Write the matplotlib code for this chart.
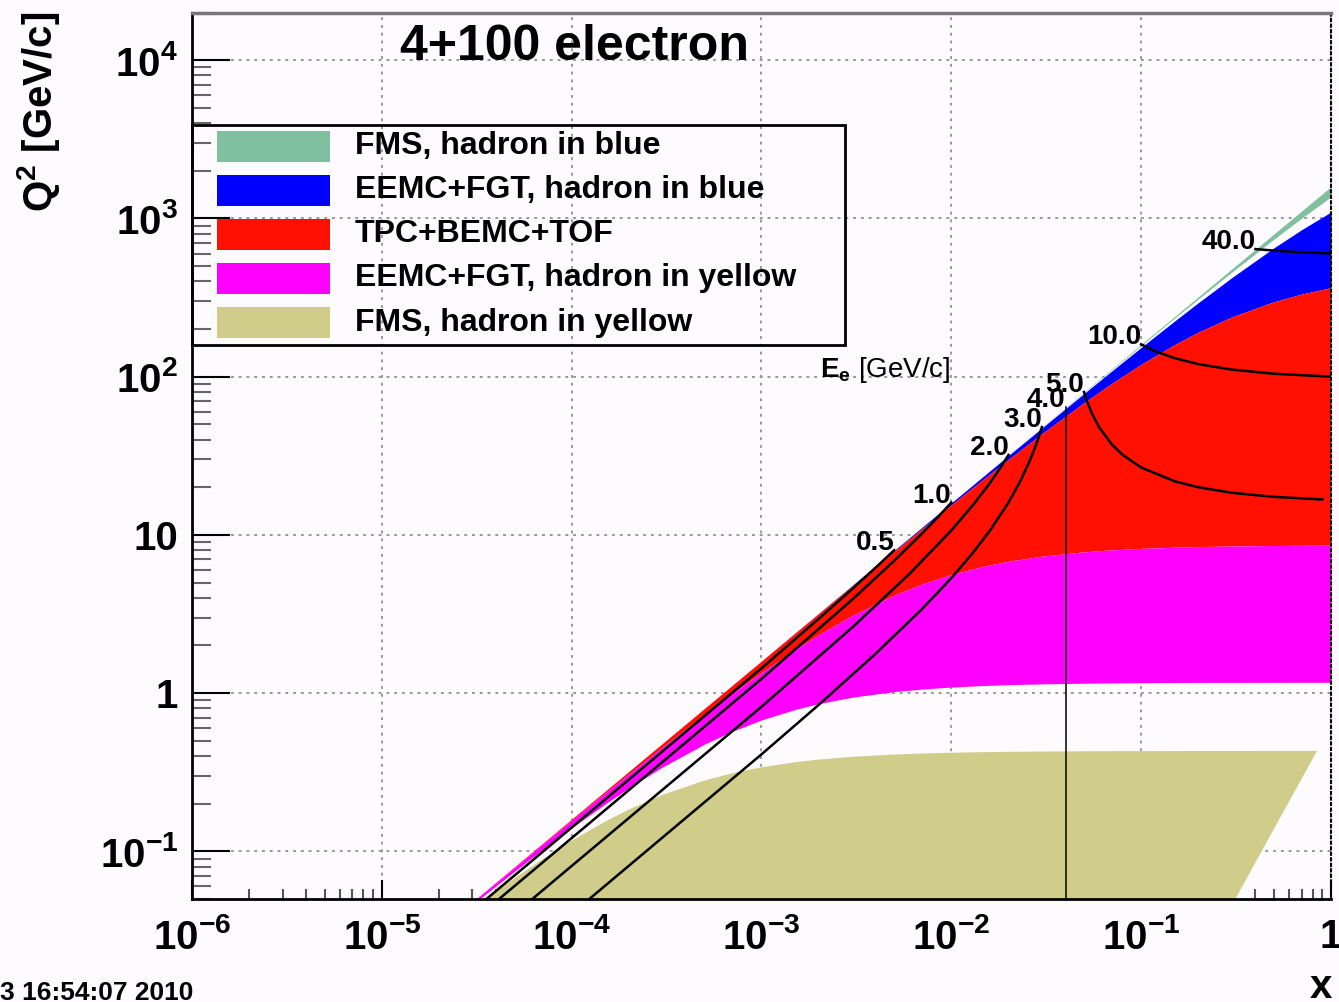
import matplotlib.pyplot as plt
from matplotlib.patches import Rectangle
from matplotlib.ticker import LogLocator, NullFormatter

plt.rcParams['font.family'] = ['Liberation Sans', 'DejaVu Sans']
plt.rcParams['font.weight'] = 'bold'
plt.rcParams['mathtext.fontset'] = 'custom'
plt.rcParams['mathtext.rm'] = 'Liberation Sans:bold'
plt.rcParams['mathtext.it'] = 'Liberation Sans:bold'
plt.rcParams['mathtext.bf'] = 'Liberation Sans:bold'
plt.rcParams['mathtext.sf'] = 'Liberation Sans'
plt.rcParams['mathtext.default'] = 'rm'

# --- acceptance bands: Q2 boundaries (GeV2) read along a common x grid ---
x_grid = [2e-5, 3e-5, 5e-5, 7e-5, 1e-4, 1.5e-4, 2e-4, 3e-4, 5e-4, 7e-4,
          1e-3, 1.5e-3, 2e-3, 3e-3, 5e-3, 7e-3, 1e-2, 1.5e-2, 2e-2, 3e-2,
          5e-2, 7e-2, 0.1, 0.15, 0.2, 0.3, 0.5, 0.7, 1.0]

q2_fms_blue_hi = [0.032, 0.048, 0.08, 0.112, 0.16, 0.24, 0.32, 0.48, 0.8, 1.12,
                  1.6, 2.4, 3.2, 4.8, 8.0, 11.2, 16.0, 24.0, 31.99, 47.99,
                  79.97, 111.9, 159.9, 239.7, 319.5, 478.8, 796.7, 1113, 1587]
q2_fms_blue_lo = [0.032, 0.048, 0.08, 0.112, 0.16, 0.24, 0.32, 0.48, 0.7999, 1.120,
                  1.600, 2.399, 3.199, 4.798, 7.993, 11.19, 15.97, 23.94, 31.89, 47.76,
                  79.33, 110.7, 157.3, 234.1, 309.6, 456.9, 737.9, 1002, 1369]
q2_eemc_blue_hi = [0.032, 0.048, 0.08, 0.112, 0.16, 0.24, 0.32, 0.4799, 0.7998, 1.120,
                   1.599, 2.398, 3.197, 4.793, 7.982, 11.16, 15.93, 23.84, 31.71, 47.35,
                   78.21, 108.5, 153.0, 224.6, 293.2, 422.0, 651.0, 848.1, 1097]
q2_tpc_hi = [0.032, 0.048, 0.07999, 0.112, 0.1599, 0.2399, 0.3198, 0.4795, 0.7986, 1.117,
             1.595, 2.388, 3.178, 4.752, 7.867, 10.94, 15.48, 22.84, 29.97, 43.58,
             68.42, 90.55, 119.6, 159.2, 190.9, 238.2, 297.2, 332.5, 365.0]
q2_tpc_lo = [0.03188, 0.04774, 0.07927, 0.1106, 0.1571, 0.2335, 0.3086, 0.4548, 0.7324, 0.9918,
             1.351, 1.879, 2.337, 3.088, 4.159, 4.884, 5.619, 6.364, 6.816, 7.337,
             7.815, 8.039, 8.216, 8.359, 8.433, 8.507, 8.568, 8.595, 8.614]
q2_eemc_yellow_lo = [0.03115, 0.04611, 0.07489, 0.1022, 0.1408, 0.1992, 0.2514, 0.3406, 0.4755, 0.5728,
                     0.6766, 0.7876, 0.8579, 0.9421, 1.022, 1.061, 1.092, 1.118, 1.131, 1.144,
                     1.155, 1.160, 1.164, 1.167, 1.168, 1.169, 1.170, 1.171, 1.171]
# FMS, hadron in yellow: top edge up to x = 0.7, then the slanted right edge
q2_fms_yellow_hi = [0.02979, 0.04319, 0.06748, 0.08891, 0.1167, 0.1542, 0.1837, 0.2272, 0.2802, 0.3113,
                    0.3397, 0.3655, 0.3800, 0.3957, 0.4092, 0.4152, 0.4199, 0.4236, 0.4255, 0.4274,
                    0.4289, 0.4296, 0.4300, 0.4304, 0.4306, 0.4308, 0.4310, 0.4310]
fms_yellow_edge_x = [0.844, 0.2055]
fms_yellow_edge_q2 = [0.431, 0.02]
q2_floor = 0.02

# --- scattered electron energy contours E_e [GeV/c] ---
e_labels = ['0.5', '1.0', '2.0', '3.0', '4.0', '5.0', '10.0', '40.0']
e_x = [
    [2e-5, 1e-3, 2e-3, 3e-3, 4e-3, 5e-3],
    [2e-5, 1e-3, 3e-3, 5e-3, 7e-3, 8.5e-3, 1e-2],
    [2e-5, 1e-3, 3e-3, 6e-3, 1e-2, 1.3e-2, 1.6e-2, 1.8e-2, 2e-2],
    [4e-5, 1e-3, 2e-3, 4e-3, 7e-3, 1e-2, 1.3e-2, 1.6e-2, 2e-2, 2.3e-2, 2.6e-2, 2.8e-2, 2.9e-2, 3e-2],
    [0.04, 0.04],
    [0.05, 0.052, 0.055, 0.06, 0.07, 0.08, 0.1, 0.15, 0.2, 0.3, 0.5, 0.9],
    [0.1, 0.12, 0.15, 0.2, 0.3, 0.5, 1.0],
    [0.4, 0.5, 0.7, 1.0],
]
e_q2 = [
    [0.0280, 1.436, 2.947, 4.541, 6.222, 8.0],
    [0.0240, 1.231, 3.892, 6.857, 10.18, 12.95, 16.0],
    [0.0160, 0.8205, 2.595, 5.647, 10.67, 15.41, 21.33, 26.18, 32.0],
    [0.0160, 0.4103, 0.8421, 1.778, 3.394, 5.333, 7.704, 10.67, 16.0, 21.65, 29.71, 37.33, 42.18, 48.0],
    [0.01, 64.0],
    [80.0, 69.33, 58.67, 48.0, 37.33, 32.0, 26.67, 21.82, 20.0, 18.46, 17.39, 16.74],
    [160.0, 144.0, 130.9, 120.0, 110.8, 104.3, 100.0],
    [640.0, 626.1, 610.9, 600.0],
]

legend_labels = ['FMS, hadron in blue', 'EEMC+FGT, hadron in blue', 'TPC+BEMC+TOF',
                 'EEMC+FGT, hadron in yellow', 'FMS, hadron in yellow']
colors = ['#80c0a0', '#0000ff', '#ff1000', '#ff00ff', '#d0cc8a']

x_major = [1e-6, 1e-5, 1e-4, 1e-3, 1e-2, 1e-1, 1.0]
x_labels = ['$10^{-6}$', '$10^{-5}$', '$10^{-4}$', '$10^{-3}$', '$10^{-2}$', '$10^{-1}$', '1']
y_major = [0.1, 1.0, 10.0, 100.0, 1000.0, 10000.0]
y_labels = ['$10^{-1}$', '1', '10', '$10^{2}$', '$10^{3}$', '$10^{4}$']

bg = '#fdfbfd'
fig = plt.figure(figsize=(13.39, 10.02), dpi=100, facecolor=bg)
ax = fig.add_axes([0.1434, 0.1028, 0.8506, 0.8847], facecolor=bg)
ax.set_xscale('log')
ax.set_yscale('log')
ax.set_xlim(1e-6, 1.0)
ax.set_ylim(0.05, 2.0e4)

# bands
ax.fill_between(x_grid, q2_fms_blue_lo, q2_fms_blue_hi, color=colors[0], lw=0, zorder=2)
ax.fill_between(x_grid, q2_tpc_hi, q2_eemc_blue_hi, color=colors[1], lw=0, zorder=2)
ax.fill_between(x_grid, q2_tpc_lo, q2_tpc_hi, color=colors[2], lw=0, zorder=2)
ax.fill_between(x_grid, q2_eemc_yellow_lo, q2_tpc_lo, color=colors[3], lw=0, zorder=2)
poly_x = x_grid[:len(q2_fms_yellow_hi)] + fms_yellow_edge_x + [x_grid[0]]
poly_y = q2_fms_yellow_hi + fms_yellow_edge_q2 + [q2_floor]
ax.fill(poly_x, poly_y, color=colors[4], lw=0, zorder=2)

# electron energy contours
for lab, xs, qs in zip(e_labels, e_x, e_q2):
    lw = 1.1 if lab == '4.0' else 1.8
    ax.plot(xs, qs, color='black', lw=lw, zorder=3)
    i = qs.index(max(qs))
    ax.text(xs[i], qs[i], lab, ha='right', va='baseline', fontsize=20, zorder=4)
ax.text(0.0099, 100, r'$\mathsf{E_e}$ [GeV/c]', ha='right', va='baseline',
        fontsize=20, fontweight='normal', zorder=4)

# axes styling
ax.set_xticks(x_major, labels=x_labels)
ax.set_yticks(y_major, labels=y_labels)
ax.xaxis.set_minor_locator(LogLocator(base=10, subs=range(2, 10), numticks=20))
ax.yaxis.set_minor_locator(LogLocator(base=10, subs=range(2, 10), numticks=20))
ax.xaxis.set_minor_formatter(NullFormatter())
ax.yaxis.set_minor_formatter(NullFormatter())
ax.tick_params(axis='x', which='major', direction='in', length=14, width=1.5, labelsize=29, pad=14)
ax.tick_params(axis='x', which='minor', direction='in', length=7, width=1.5, color='#555555')
ax.tick_params(axis='y', which='major', direction='in', length=27, width=1.5, labelsize=29, pad=10)
ax.tick_params(axis='y', which='minor', direction='in', length=14, width=1.5, color='#666666')
ax.set_axisbelow(True)
ax.grid(True, which='major', color='#999999', lw=1.4, ls=(0, (1.5, 2.5)))
for side in ['left', 'bottom']:
    ax.spines[side].set_linewidth(2)
ax.spines['top'].set_color('#777777')
ax.spines['top'].set_linewidth(2.5)
ax.spines['right'].set_linestyle(':')
ax.spines['right'].set_linewidth(1.5)

ax.text(0.3354, 0.9464, '4+100 electron', transform=ax.transAxes, ha='center',
        va='baseline', fontsize=36)

# legend box (ROOT TLegend style)
ax.add_patch(Rectangle((0.0, 0.6249), 0.5733, 0.2482, transform=ax.transAxes,
                       fill=False, edgecolor='black', lw=2, zorder=5, clip_on=False))
for k, (lab, c) in enumerate(zip(legend_labels, colors)):
    yc = 0.8494 - 0.0498 * k
    ax.add_patch(Rectangle((0.0220, yc - 0.0175), 0.0992, 0.035, transform=ax.transAxes,
                           facecolor=c, edgecolor='none', zorder=5))
    ax.text(0.1431, yc, lab, transform=ax.transAxes, ha='left', va='center',
            fontsize=23, zorder=5)

fig.text(0.0284, 0.988, 'Q$^{2}$ [GeV/c]', rotation=90, ha='center', va='top', fontsize=29)
fig.text(0.9948, 0.004, 'x', ha='right', va='baseline', fontsize=29)
fig.text(0.1441, 0.002, '3 16:54:07 2010', ha='right', va='baseline', fontsize=19)

fig.savefig('out.png', dpi=100, facecolor=bg)
